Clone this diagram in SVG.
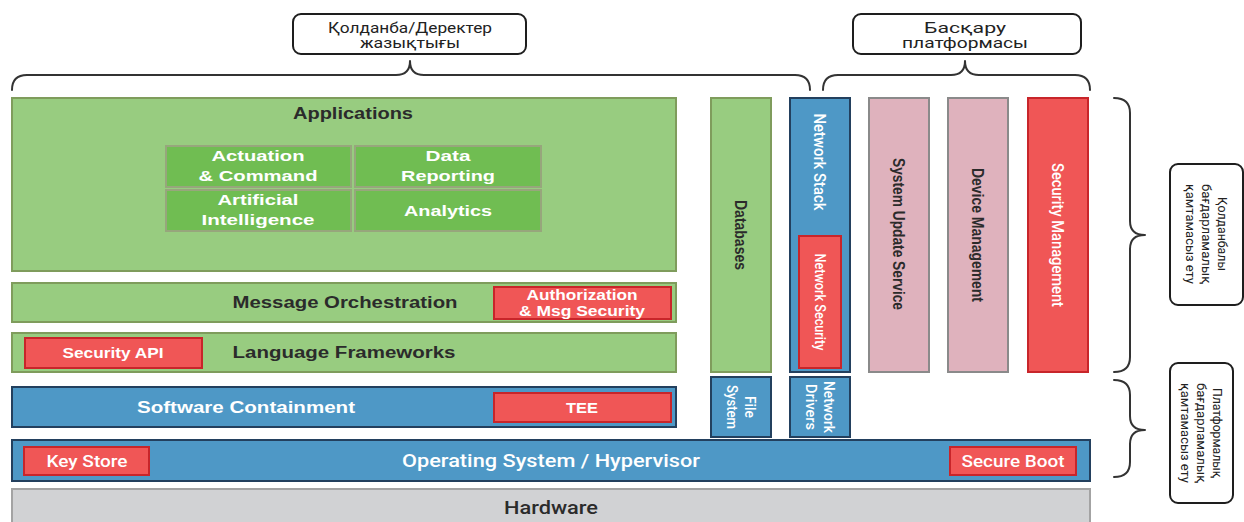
<svg xmlns="http://www.w3.org/2000/svg" width="1244" height="522" viewBox="0 0 1244 522">
<style>
.lg{fill:#98cc80;stroke:#7f9c5c;stroke-width:2}
.ig{fill:#70bd52;stroke:#97a67c;stroke-width:2}
.bl{fill:#4e98c6;stroke:#23405e;stroke-width:2}
.rd{fill:#f05656;stroke:#c8252a;stroke-width:2}
.pk{fill:#dfb2bd;stroke:#8a8a8a;stroke-width:2}
.gr{fill:#d1d2d4;stroke:#a3a3a3;stroke-width:2}
.cb{fill:#fff;stroke:#1e1e1e;stroke-width:2}
.br{fill:none;stroke:#333;stroke-width:2;stroke-linecap:round;stroke-linejoin:round}
text{font-family:"Liberation Sans",Arial,sans-serif;text-anchor:middle}
.tb{font-weight:bold;font-size:16px;fill:#2b2b2b}
.tw{font-weight:bold;font-size:15px;fill:#fff}
.cw{font-family:Roboto,"Liberation Sans",sans-serif;font-size:17px;fill:#fff;font-weight:500}
.cd{font-size:17px;fill:#2b2b2b;font-weight:bold}
.k{font-family:Roboto,"Noto Sans",sans-serif;font-size:14px;fill:#222}
.kr{font-family:Roboto,"Noto Sans",sans-serif;font-size:13px;fill:#222}
</style>

<g id="label-app-data">
<rect class="cb" x="293" y="14" width="233" height="40" rx="8"/>
<text class="k" x="410" y="33" textLength="164" lengthAdjust="spacingAndGlyphs">Қолданба/Деректер</text>
<text class="k" x="410" y="48" textLength="100" lengthAdjust="spacingAndGlyphs">жазықтығы</text>
</g>
<g id="label-mgmt">
<rect class="cb" x="853" y="14" width="228" height="40" rx="8"/>
<text class="k" x="965" y="33" textLength="82" lengthAdjust="spacingAndGlyphs">Басқару</text>
<text class="k" x="965" y="48" textLength="126" lengthAdjust="spacingAndGlyphs">платформасы</text>
</g>
<g id="label-app-sw">
<rect class="cb" x="1170" y="164" width="73" height="141" rx="8"/>
<g transform="translate(1206,234) rotate(90)">
<text class="kr" x="0" y="-12" textLength="74" lengthAdjust="spacingAndGlyphs">Қолданбалы</text>
<text class="kr" x="0" y="4" textLength="100" lengthAdjust="spacingAndGlyphs">бағдарламалық</text>
<text class="kr" x="0" y="20" textLength="100" lengthAdjust="spacingAndGlyphs">қамтамасыз ету</text>
</g>
</g>
<g id="label-platform-sw">
<rect class="cb" x="1170" y="363" width="63" height="140" rx="8"/>
<g transform="translate(1201,433) rotate(90)">
<text class="kr" x="0" y="-12" textLength="90" lengthAdjust="spacingAndGlyphs">Платформалық</text>
<text class="kr" x="0" y="4" textLength="100" lengthAdjust="spacingAndGlyphs">бағдарламалық</text>
<text class="kr" x="0" y="20" textLength="100" lengthAdjust="spacingAndGlyphs">қамтамасыз ету</text>
</g>
</g>

<g id="connectors">
<path class="br" d="M12,90 Q12,75 27,75 L396,75 Q410,75 410,61 Q410,75 424,75 L795,75 Q810,75 810,90"/>
<path class="br" d="M823,90 Q823,75 838,75 L951,75 Q965,75 965,61 Q965,75 979,75 L1075,75 Q1090,75 1090,90"/>
<path class="br" d="M1114,98 Q1130,98 1130,113 L1130,221 Q1130,235 1145,235 Q1130,235 1130,249 L1130,357 Q1130,372 1114,372"/>
<path class="br" d="M1114,380 Q1130,380 1130,395 L1130,416 Q1130,430 1145,430 Q1130,430 1130,444 L1130,462 Q1130,477 1114,477"/>
</g>

<g id="applications">
<rect class="lg" x="12" y="98" width="664" height="173"/>
<text class="tb" x="353" y="119" textLength="120" lengthAdjust="spacingAndGlyphs">Applications</text>
</g>
<g id="actuation">
<rect class="ig" x="166" y="146" width="185" height="41"/>
<text class="tw" x="258" y="161" textLength="93" lengthAdjust="spacingAndGlyphs">Actuation</text>
<text class="tw" x="258" y="181" textLength="119" lengthAdjust="spacingAndGlyphs">&amp; Command</text>
</g>
<g id="data-reporting">
<rect class="ig" x="355" y="146" width="186" height="41"/>
<text class="tw" x="448" y="161" textLength="45" lengthAdjust="spacingAndGlyphs">Data</text>
<text class="tw" x="448" y="181" textLength="94" lengthAdjust="spacingAndGlyphs">Reporting</text>
</g>
<g id="ai">
<rect class="ig" x="166" y="190" width="185" height="41"/>
<text class="tw" x="258" y="205" textLength="81" lengthAdjust="spacingAndGlyphs">Artificial</text>
<text class="tw" x="258" y="225" textLength="113" lengthAdjust="spacingAndGlyphs">Intelligence</text>
</g>
<g id="analytics">
<rect class="ig" x="355" y="190" width="186" height="41"/>
<text class="tw" x="448" y="216" textLength="88" lengthAdjust="spacingAndGlyphs">Analytics</text>
</g>

<g id="message-orchestration">
<rect class="lg" x="12" y="283" width="664" height="39"/>
<text class="tb" x="345" y="308" textLength="225" lengthAdjust="spacingAndGlyphs">Message Orchestration</text>
</g>
<g id="authorization">
<rect class="rd" x="494" y="287" width="177" height="32"/>
<text class="tw" x="582" y="300" textLength="111" lengthAdjust="spacingAndGlyphs">Authorization</text>
<text class="tw" x="582" y="316" textLength="126" lengthAdjust="spacingAndGlyphs">&amp; Msg Security</text>
</g>

<g id="language-frameworks">
<rect class="lg" x="12" y="333" width="664" height="39"/>
<text class="tb" x="344" y="358" textLength="223" lengthAdjust="spacingAndGlyphs">Language Frameworks</text>
</g>
<g id="security-api">
<rect class="rd" x="25" y="338" width="177" height="30"/>
<text class="tw" x="113" y="358" textLength="101" lengthAdjust="spacingAndGlyphs">Security API</text>
</g>

<g id="software-containment">
<rect class="bl" x="12" y="387" width="664" height="40"/>
<text class="tw" x="246" y="413" style="font-size:16px" textLength="218" lengthAdjust="spacingAndGlyphs">Software Containment</text>
</g>
<g id="tee">
<rect class="rd" x="494" y="393" width="177" height="29"/>
<text class="tw" x="582" y="413" textLength="32" lengthAdjust="spacingAndGlyphs">TEE</text>
</g>

<g id="os">
<rect class="bl" x="12" y="440" width="1078" height="41"/>
<text class="cw" x="551" y="467" style="font-size:19px" textLength="298" lengthAdjust="spacingAndGlyphs">Operating System / Hypervisor</text>
</g>
<g id="key-store">
<rect class="rd" x="24" y="447" width="125" height="28"/>
<text class="cw" x="87" y="467" textLength="81" lengthAdjust="spacingAndGlyphs">Key Store</text>
</g>
<g id="secure-boot">
<rect class="rd" x="950" y="447" width="126" height="28"/>
<text class="cw" x="1013" y="467" textLength="103" lengthAdjust="spacingAndGlyphs">Secure Boot</text>
</g>

<g id="hardware">
<rect class="gr" x="12" y="489" width="1078" height="40"/>
<text class="cd" x="551" y="514" style="font-size:19px;font-family:Roboto,'Liberation Sans',sans-serif;font-weight:500" textLength="94" lengthAdjust="spacingAndGlyphs">Hardware</text>
</g>

<g id="databases">
<rect class="lg" x="711" y="98" width="60" height="274"/>
<text class="cd" transform="translate(741,235) rotate(90)" x="0" y="6" textLength="70" lengthAdjust="spacingAndGlyphs">Databases</text>
</g>
<g id="network-stack">
<rect class="bl" x="790" y="98" width="60" height="274"/>
<text class="cw" transform="translate(820,162) rotate(90)" x="0" y="6" textLength="97" lengthAdjust="spacingAndGlyphs">Network Stack</text>
</g>
<g id="network-security">
<rect class="rd" x="799" y="236" width="42" height="132"/>
<text class="cw" transform="translate(820,302) rotate(90)" x="0" y="5" style="font-size:15px" textLength="97" lengthAdjust="spacingAndGlyphs">Network Security</text>
</g>
<g id="file-system">
<rect class="bl" x="711" y="377" width="60" height="60"/>
<g transform="translate(741,407) rotate(90)">
<text class="cw" x="0" y="-4" style="font-size:15px" textLength="22" lengthAdjust="spacingAndGlyphs">File</text>
<text class="cw" x="0" y="14" style="font-size:15px" textLength="44" lengthAdjust="spacingAndGlyphs">System</text>
</g>
</g>
<g id="network-drivers">
<rect class="bl" x="790" y="377" width="60" height="60"/>
<g transform="translate(820,407) rotate(90)">
<text class="cw" x="0" y="-4" style="font-size:15px" textLength="52" lengthAdjust="spacingAndGlyphs">Network</text>
<text class="cw" x="0" y="14" style="font-size:15px" textLength="46" lengthAdjust="spacingAndGlyphs">Drivers</text>
</g>
</g>
<g id="system-update-service">
<rect class="pk" x="869" y="98" width="60" height="274"/>
<text class="cd" transform="translate(899,234) rotate(90)" x="0" y="6" textLength="152" lengthAdjust="spacingAndGlyphs">System Update Service</text>
</g>
<g id="device-management">
<rect class="pk" x="948" y="98" width="60" height="274"/>
<text class="cd" transform="translate(978,235) rotate(90)" x="0" y="6" textLength="134" lengthAdjust="spacingAndGlyphs">Device Management</text>
</g>
<g id="security-management">
<rect class="rd" x="1028" y="98" width="60" height="274"/>
<text class="cw" transform="translate(1058,235) rotate(90)" x="0" y="6" textLength="144" lengthAdjust="spacingAndGlyphs">Security Management</text>
</g>
</svg>
